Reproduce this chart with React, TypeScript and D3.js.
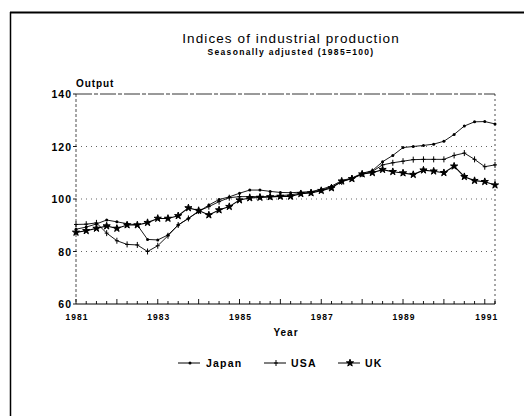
import React from "react";
import * as d3 from "d3";

const startYear = 1981;
const quarterStep = 0.25;

const japan = [
  88.5, 89.3, 90.5, 92.0, 91.3, 90.6, 90.1, 84.6, 84.4, 86.3,
  90.1, 92.6, 95.2, 97.7, 99.8, 100.8, 102.2, 103.4, 103.4, 102.9,
  102.5, 102.4, 102.6, 102.8, 103.7, 104.9, 107.0, 108.0, 109.8, 110.8,
  114.2, 116.6, 119.6, 120.0, 120.4, 120.9, 122.0, 124.6, 127.8, 129.4,
  129.5, 128.6,
];
const usa = [
  90.3, 90.4, 90.9, 87.0, 84.1, 82.7, 82.5, 80.0, 82.2, 86.0,
  90.1, 92.6, 95.4, 97.1, 99.0, 100.5, 100.9, 100.9, 100.9, 100.9,
  101.3, 101.6, 102.2, 102.6, 103.4, 104.5, 106.5, 107.9, 109.5, 110.5,
  113.0, 113.8, 114.4, 115.0, 115.1, 115.1, 115.1, 116.6, 117.5, 115.1,
  112.3, 113.0,
];
const uk = [
  87.3, 87.9, 88.8, 89.7, 88.8, 90.1, 90.1, 91.0, 92.6, 92.6,
  93.6, 96.6, 95.6, 93.9, 95.8, 97.1, 99.6, 100.4, 100.6, 100.8,
  101.0, 101.0, 102.0, 102.3, 103.2, 104.2, 106.8, 107.7, 109.5, 110.0,
  111.2, 110.4, 109.9, 109.3, 111.0, 110.6, 110.0, 112.5, 108.5, 107.0,
  106.6, 105.3,
];

const yTicks = [60, 80, 100, 120, 140];
const xTickLabels = [1981, 1983, 1985, 1987, 1989, 1991];
const seriesNames = ["Japan", "USA", "UK"];

const W = 524;
const H = 416;
const FONT = "'Liberation Sans', Arial, Helvetica, sans-serif";

const x = d3.scaleLinear().domain([1981, 1991.25]).range([76, 495]);
const y = d3.scaleLinear().domain([60, 140]).range([304, 94]);

type Pt = [number, number];
const toPts = (vals: number[]): Pt[] =>
  vals.map((v, i) => [startYear + i * quarterStep, v]);

const line = d3
  .line<Pt>()
  .x((d) => x(d[0]))
  .y((d) => y(d[1]));

const starPath = d3.symbol().type(d3.symbolStar).size(16)() as string;

function Marker({ kind, cx, cy }: { kind: string; cx: number; cy: number }) {
  if (kind === "Japan") {
    return <circle cx={cx} cy={cy} r={1.5} fill="#000" />;
  }
  if (kind === "USA") {
    return (
      <g stroke="#000" strokeWidth={1}>
        <line x1={cx} x2={cx} y1={cy - 3} y2={cy + 3} />
        <line x1={cx - 2} x2={cx + 2} y1={cy} y2={cy} />
      </g>
    );
  }
  return (
    <path d={starPath} transform={`translate(${cx},${cy})`} fill="#000" stroke="#000" strokeWidth={1} />
  );
}

export default function App() {
  const data: Record<string, number[]> = { Japan: japan, USA: usa, UK: uk };
  const quarters = d3.range(0, 42).map((i) => startYear + i * quarterStep);

  return (
    <svg
      width={W}
      height={H}
      style={{ position: "absolute", left: 0, top: 0, background: "#fff" }}
      fontFamily={FONT}
    >
      <rect x={0} y={0} width={W} height={H} fill="#fff" />
      {/* frame */}
      <line x1={10} x2={W} y1={12.5} y2={12.5} stroke="#000" strokeWidth={1.8} />
      <line x1={10.5} x2={10.5} y1={12} y2={H} stroke="#000" strokeWidth={1.5} />

      {/* titles */}
      <text x={291} y={43} textAnchor="middle" fontSize={13.5} letterSpacing={1.1} fill="#000">
        Indices of industrial production
      </text>
      <text x={291} y={55} textAnchor="middle" fontSize={8.5} fontWeight="bold" letterSpacing={1.3} fill="#000">
        Seasonally adjusted (1985=100)
      </text>

      {/* grid lines */}
      {yTicks
        .filter((t) => t > 60 && t < 140)
        .map((t) => (
          <line
            key={t}
            x1={x.range()[0]}
            x2={x.range()[1]}
            y1={y(t)}
            y2={y(t)}
            stroke="#222"
            strokeWidth={0.7}
            strokeDasharray="1 4"
          />
        ))}
      {/* top border */}
      <line x1={x.range()[0]} x2={x.range()[1]} y1={y(140)} y2={y(140)} stroke="#000" strokeWidth={0.8} strokeDasharray="16 2 4 2" />
      {/* right border */}
      <line x1={x.range()[1]} x2={x.range()[1]} y1={y(140)} y2={y(60)} stroke="#000" strokeWidth={0.7} strokeDasharray="2 3" />
      {/* left axis */}
      <line x1={x.range()[0]} x2={x.range()[0]} y1={y(140)} y2={y(60)} stroke="#000" strokeWidth={0.7} strokeDasharray="3 2" />
      {/* bottom axis */}
      <line x1={x.range()[0]} x2={x.range()[1]} y1={y(60)} y2={y(60)} stroke="#000" strokeWidth={1.2} />
      {quarters.concat([1991.25]).map((q, i) => {
        const isYear = Math.abs(q - Math.round(q)) < 1e-6;
        return (
          <line
            key={i}
            x1={x(q)}
            x2={x(q)}
            y1={y(60)}
            y2={y(60) - (isYear ? 5 : 3)}
            stroke="#000"
            strokeWidth={0.9}
          />
        );
      })}
      {yTicks.map((t) => (
        <g key={t}>
          <line x1={x.range()[0] - 3} x2={x.range()[0]} y1={y(t)} y2={y(t)} stroke="#000" strokeWidth={0.9} />
          <text x={x.range()[0] - 4} y={y(t) + 4} textAnchor="end" fontSize={10.5} fontWeight="bold" letterSpacing={1} fill="#000">
            {t}
          </text>
        </g>
      ))}
      <text x={76} y={87} fontSize={10} fontWeight="bold" letterSpacing={0.9} fill="#000">
        Output
      </text>
      {xTickLabels.map((yr) => (
        <text
          key={yr}
          x={x(yr) + (yr === 1991 ? 2 : 1)}
          y={320}
          textAnchor="middle"
          fontSize={8.5}
          fontWeight="bold"
          letterSpacing={1}
          fill="#000"
        >
          {yr}
        </text>
      ))}
      <text x={286} y={336} textAnchor="middle" fontSize={10} fontWeight="bold" letterSpacing={1} fill="#000">
        Year
      </text>

      {/* series */}
      {seriesNames.map((name) => {
        const pts = toPts(data[name]);
        return (
          <g key={name}>
            <path d={line(pts) as string} fill="none" stroke="#000" strokeWidth={name === "UK" ? 1.1 : 0.9} />
            {pts.map((p, i) => (
              <Marker key={i} kind={name} cx={x(p[0])} cy={y(p[1])} />
            ))}
          </g>
        );
      })}

      {/* legend */}
      {[
        { name: "Japan", x0: 178, tx: 206 },
        { name: "USA", x0: 264, tx: 291 },
        { name: "UK", x0: 338, tx: 365 },
      ].map((l) => (
        <g key={l.name}>
          <line x1={l.x0} x2={l.x0 + 22} y1={363} y2={363} stroke="#000" strokeWidth={1} />
          <Marker kind={l.name} cx={l.x0 + 12} cy={363} />
          <text x={l.tx} y={367} fontSize={10.5} fontWeight="bold" letterSpacing={1.2} fill="#000">
            {l.name}
          </text>
        </g>
      ))}
    </svg>
  );
}
